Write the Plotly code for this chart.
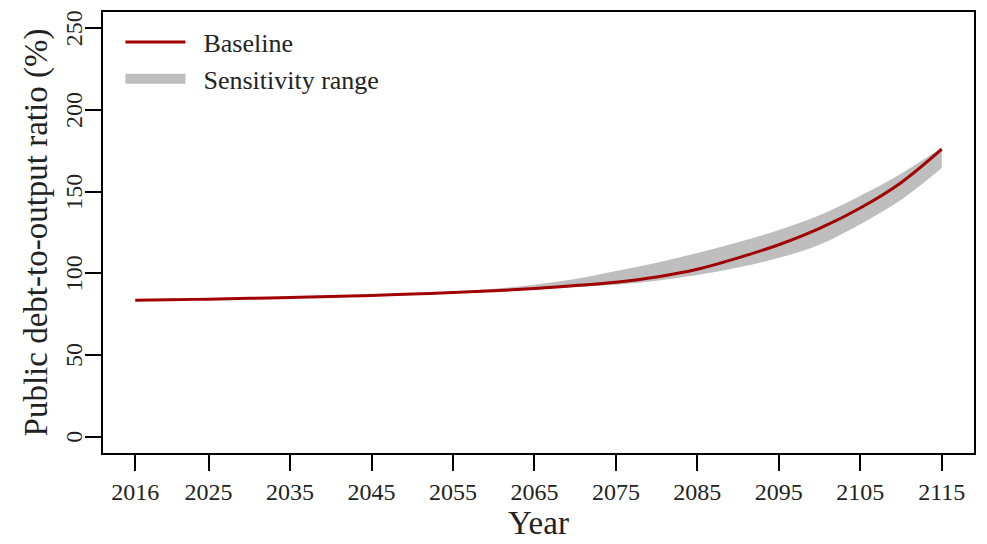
"""Public debt-to-output ratio projection with sensitivity band."""
import plotly.graph_objects as go

years = [2016, 2020, 2025, 2030, 2035, 2040, 2045, 2050, 2055, 2060,
         2065, 2070, 2075, 2080, 2085, 2090, 2095, 2100, 2105, 2110, 2115]
baseline = [83.5, 83.8, 84.2, 84.7, 85.2, 85.8, 86.5, 87.3, 88.2, 89.3,
            90.7, 92.5, 94.6, 97.8, 102.5, 109.5, 117.5, 127.5, 140.0, 155.5, 176.0]
upper = [83.6, 83.9, 84.3, 84.8, 85.3, 85.9, 86.6, 87.5, 88.6, 90.5,
         93.0, 96.5, 101.5, 106.5, 112.5, 119.0, 126.5, 135.5, 147.5, 161.0, 177.0]
lower = [83.4, 83.7, 84.1, 84.6, 85.1, 85.7, 86.4, 87.2, 88.0, 88.9,
         90.0, 91.5, 93.0, 95.5, 99.0, 103.5, 109.5, 117.5, 130.0, 145.0, 164.5]

x_ticks = [2016, 2025, 2035, 2045, 2055, 2065, 2075, 2085, 2095, 2105, 2115]
y_ticks = [0, 50, 100, 150, 200, 250]

GRAY = "#BEBEBE"
RED = "#A00000"
FONT = "Liberation Serif"
TEXT = "#222"
PAD = "\u00a0\u00a0"  # extra gap between legend swatch and label

fig = go.Figure()
fig.add_trace(go.Scatter(
    x=years, y=upper, mode="lines", line=dict(width=0, color=GRAY, shape="spline"),
    showlegend=False, hoverinfo="skip",
))
fig.add_trace(go.Scatter(
    x=years, y=lower, mode="lines", line=dict(width=0, color=GRAY, shape="spline"),
    fill="tonexty", fillcolor=GRAY, showlegend=False, hoverinfo="skip",
))
fig.add_trace(go.Scatter(
    x=years, y=baseline, mode="lines", name=PAD + "Baseline",
    line=dict(color=RED, width=3, shape="spline"),
))
# legend-only swatch for the band
fig.add_trace(go.Scatter(
    x=[None], y=[None], mode="lines", name=PAD + "Sensitivity range",
    line=dict(color=GRAY, width=14),
))

axis_common = dict(
    showline=True, linecolor="black", linewidth=2, mirror=True,
    ticks="outside", ticklen=16, tickwidth=2, tickcolor="black",
    showgrid=False, zeroline=False, automargin=False,
    tickfont=dict(family=FONT, size=24, color=TEXT),
)

# rotated y tick labels (R style, reading bottom to top)
for v in y_ticks:
    fig.add_annotation(
        x=0, xref="paper", y=v, yref="y", text=str(v), textangle=-90,
        showarrow=False, xanchor="center", yanchor="middle", xshift=-29,
        font=dict(family=FONT, size=24, color=TEXT),
    )

fig.update_layout(
    width=987, height=544,
    margin=dict(l=103, r=13, t=12, b=91),
    paper_bgcolor="white", plot_bgcolor="white",
    font=dict(family=FONT, color=TEXT),
    xaxis=dict(
        **axis_common, range=[2012.04, 2118.96], tickvals=x_ticks,
        title=dict(text="Year", font=dict(family=FONT, size=33), standoff=0),
    ),
    yaxis=dict(
        **axis_common, range=[-10, 260], tickvals=y_ticks, showticklabels=False,
        title=dict(text="Public debt-to-output ratio (%)",
                   font=dict(family=FONT, size=33), standoff=27),
    ),
    legend=dict(
        x=0.02, y=0.985, xanchor="left", yanchor="top", traceorder="normal",
        bgcolor="rgba(0,0,0,0)", itemwidth=60, tracegroupgap=0,
        font=dict(family=FONT, size=26, color=TEXT),
    ),
    showlegend=True,
)

fig.write_html(
    "out.html",
    config={"displayModeBar": False},
    post_script="document.body.style.margin='0px';",
)
